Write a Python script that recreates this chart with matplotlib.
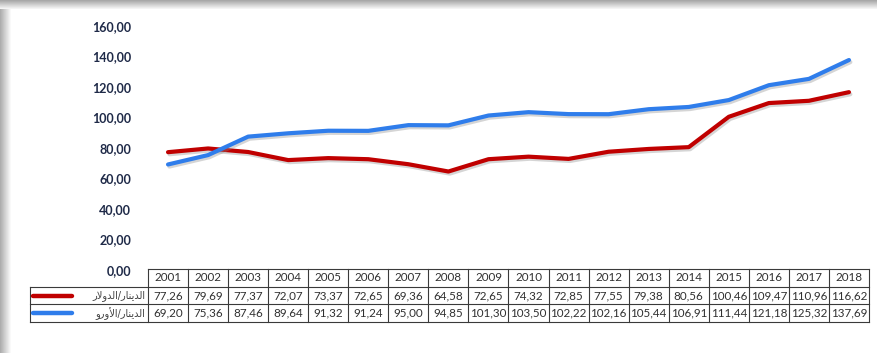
import numpy as np
import matplotlib.pyplot as plt
from matplotlib import patheffects as pe

years = [2001, 2002, 2003, 2004, 2005, 2006, 2007, 2008, 2009,
         2010, 2011, 2012, 2013, 2014, 2015, 2016, 2017, 2018]
dinar_usd = [77.26, 79.69, 77.37, 72.07, 73.37, 72.65, 69.36, 64.58, 72.65,
             74.32, 72.85, 77.55, 79.38, 80.56, 100.46, 109.47, 110.96, 116.62]
dinar_eur = [69.20, 75.36, 87.46, 89.64, 91.32, 91.24, 95.00, 94.85, 101.30,
             103.50, 102.22, 102.16, 105.44, 106.91, 111.44, 121.18, 125.32, 137.69]
series_names = ["الدينار/الدولار", "الدينار/الأورو"]
series_colors = ["#C00000", "#2F7DEB"]
y_ticks = [0, 20, 40, 60, 80, 100, 120, 140, 160]

# contextual forms for the few Arabic letters used in the labels:
# isolated, final, initial, medial
FORMS = {
    "ا": ("\uFE8D", "\uFE8E", None, None),
    "أ": ("\uFE83", "\uFE84", None, None),
    "د": ("\uFEA9", "\uFEAA", None, None),
    "ر": ("\uFEAD", "\uFEAE", None, None),
    "و": ("\uFEED", "\uFEEE", None, None),
    "ي": ("\uFEF1", "\uFEF2", "\uFEF3", "\uFEF4"),
    "ن": ("\uFEE5", "\uFEE6", "\uFEE7", "\uFEE8"),
    "ل": ("\uFEDD", "\uFEDE", "\uFEDF", "\uFEE0"),
}
LAM_ALEF = {"ا": ("\uFEFB", "\uFEFC"), "أ": ("\uFEF7", "\uFEF8")}


def shape_arabic(s):
    """matplotlib has no Arabic shaping: pick joined forms and reverse."""
    tokens = []
    i = 0
    while i < len(s):
        if s[i] == "ل" and i + 1 < len(s) and s[i + 1] in LAM_ALEF:
            tokens.append(("LA", s[i + 1]))
            i += 2
        else:
            tokens.append(("C", s[i]))
            i += 1

    def joins_left(tok):
        kind, ch = tok
        return kind == "C" and ch in FORMS and FORMS[ch][2] is not None

    def joins_right(tok):
        kind, ch = tok
        return kind == "LA" or ch in FORMS

    out = []
    for k, tok in enumerate(tokens):
        prev = tokens[k - 1] if k > 0 else None
        nxt = tokens[k + 1] if k + 1 < len(tokens) else None
        from_prev = prev is not None and joins_left(prev) and joins_right(tok)
        to_next = nxt is not None and joins_left(tok) and joins_right(nxt)
        kind, ch = tok
        if kind == "LA":
            out.append(LAM_ALEF[ch][1 if from_prev else 0])
        elif ch in FORMS:
            iso, fin, ini, med = FORMS[ch]
            if from_prev and to_next:
                out.append(med)
            elif from_prev:
                out.append(fin)
            elif to_next:
                out.append(ini)
            else:
                out.append(iso)
        else:
            out.append(ch)
    return "".join(reversed(out))


def fmt(v):
    return f"{v:.2f}".replace(".", ",")


W, H = 877, 353
fig = plt.figure(figsize=(W / 100, H / 100), dpi=100)

# grey frame along the top and left edges
bg = np.ones((H, W, 3))
for y in range(9):
    bg[y, :, :] = 0.66 + 0.30 * y / 8
for x in range(11):
    shade = 0.68 + 0.30 * x / 10
    bg[9:, x, :] = np.minimum(bg[9:, x, :], shade)
bax = fig.add_axes([0, 0, 1, 1], zorder=-5)
bax.imshow(bg, aspect="auto", interpolation="bilinear")
bax.axis("off")

x0, x1 = 148, 869
y_zero, y_top = 270, 26
ax = fig.add_axes([x0 / W, (H - y_zero) / H, (x1 - x0) / W, (y_zero - y_top) / H])
ax.patch.set_alpha(0)
xs = np.arange(len(years))
for vals, col in zip([dinar_usd, dinar_eur], series_colors):
    ax.plot(xs, vals, color=col, lw=3.0, solid_capstyle="round", solid_joinstyle="round",
            path_effects=[pe.SimpleLineShadow(offset=(1, -1.5), shadow_color="#888888", alpha=0.35),
                          pe.Normal()])
ax.set_xlim(-0.5, len(years) - 0.5)
ax.set_ylim(0, 160)
ax.set_yticks(y_ticks)
ax.set_yticklabels([fmt(v) for v in y_ticks], fontfamily="Lato", fontweight="bold",
                   fontsize=9, color="#1F2A48")
ax.tick_params(axis="y", length=0, pad=12)
ax.set_xticks([])
for s in ax.spines.values():
    s.set_visible(False)

# data table under the plot, sharing the year columns
t_top, t_bot = 269, 322
tax = fig.add_axes([x0 / W, (H - t_bot) / H, (x1 - x0) / W, (t_bot - t_top) / H], sharex=ax)
tax.patch.set_alpha(0)
tax.set_ylim(3, 0)
tax.axis("off")
col_w = (x1 - x0) / len(years)
left = -0.5 - (x0 - 30) / col_w
edge = "#3A3A3A"
lkw = dict(color=edge, lw=0.8, clip_on=False)
tax.plot([-0.5, len(years) - 0.5], [0, 0], **lkw)
for r in (1, 2, 3):
    tax.plot([left, len(years) - 0.5], [r, r], **lkw)
for k in range(len(years) + 1):
    tax.plot([k - 0.5, k - 0.5], [0, 3], **lkw)
tax.plot([left, left], [1, 3], **lkw)

tkw = dict(ha="center", va="center", fontfamily="Lato", fontsize=8.4, color="#303030", clip_on=False)
for i, yr in enumerate(years):
    tax.text(i, 0.5, str(yr), **tkw)
    tax.text(i, 1.5, fmt(dinar_usd[i]), **tkw)
    tax.text(i, 2.5, fmt(dinar_eur[i]), **tkw)

for r, (name, col) in enumerate(zip(series_names, series_colors)):
    yc = 1.5 + r
    tax.plot([left + 0.08, left + 1.05], [yc, yc], color=col, lw=3.2,
             solid_capstyle="round", clip_on=False)
    tax.text(-0.57, yc, shape_arabic(name), ha="right", va="center",
             fontfamily="DejaVu Sans", fontsize=7, color="#404040", clip_on=False)

fig.savefig("out.png", dpi=100)
